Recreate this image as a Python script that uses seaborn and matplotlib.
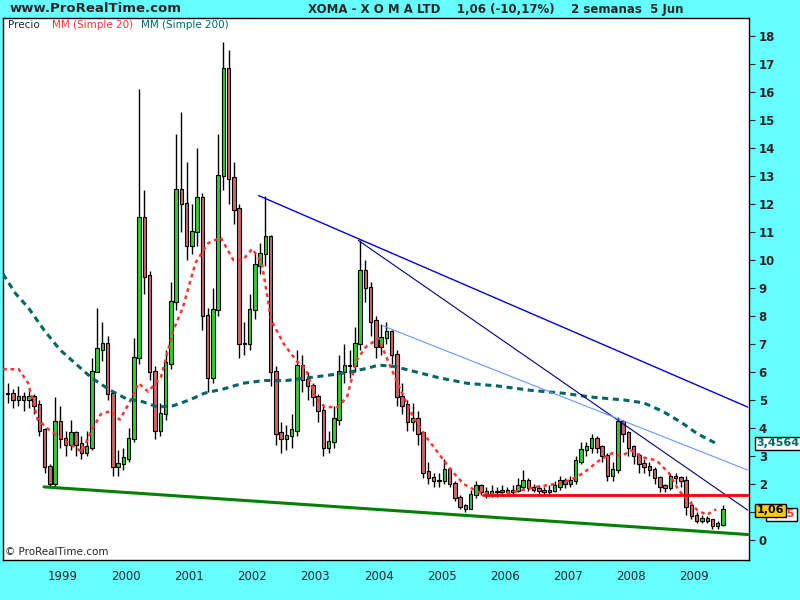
import matplotlib
matplotlib.use("Agg")
import matplotlib.pyplot as plt
import seaborn as sns
import numpy as np
import pandas as pd

# monthly candles, Jan 1998 .. May 2009
closes = [5.2,5.0,5.1,5.0,5.1,4.8,3.9,2.6,2.0,4.2,3.6,3.4,
          3.8,3.4,3.1,3.3,6.0,6.8,7.0,5.2,2.6,2.7,2.9,3.6,
          6.5,11.5,9.4,6.0,3.9,4.5,6.3,8.5,12.5,12.0,10.5,11.0,
          12.2,8.0,5.8,8.2,13.0,16.8,12.9,11.8,7.0,7.0,8.2,9.8,
          10.2,10.8,6.0,3.8,3.6,3.7,3.9,6.2,5.7,5.5,5.1,4.6,
          3.3,3.5,4.3,6.0,6.2,6.2,7.0,9.6,9.0,7.8,6.9,7.2,
          7.4,6.6,5.1,4.8,4.2,4.3,3.8,2.4,2.2,2.1,2.1,2.5,
          2.0,1.5,1.2,1.1,1.6,1.9,1.7,1.6,1.7,1.7,1.75,1.7,
          1.75,1.9,2.1,1.85,1.8,1.75,1.7,1.75,1.9,2.1,2.0,2.1,
          2.8,3.2,3.3,3.6,3.3,3.0,2.3,2.5,4.2,3.8,3.3,3.0,
          2.7,2.6,2.5,2.2,1.9,1.85,2.25,2.2,2.1,1.2,0.85,0.7,
          0.75,0.7,0.5,0.55,1.06]
highs = [5.6,5.4,5.5,5.3,5.4,5.2,5.0,4.0,2.7,5.1,4.8,3.9,
         4.3,3.9,3.7,3.9,6.5,8.3,7.8,7.3,5.3,3.2,3.3,4.0,
         7.2,16.1,12.5,9.6,6.2,4.9,6.8,9.2,14.5,15.3,13.5,12.0,
         14.0,12.4,8.3,9.0,14.5,17.8,17.5,13.5,12.0,7.8,8.8,10.3,
         10.6,12.3,10.9,6.2,4.2,4.1,4.5,6.8,6.6,6.0,5.6,5.2,
         4.8,3.9,4.8,6.6,7.0,6.8,7.6,10.7,10.0,9.2,8.0,7.7,
         7.8,7.5,6.8,5.6,5.0,4.9,4.6,3.9,2.8,2.4,2.4,2.9,
         2.6,2.1,1.6,1.3,1.8,2.1,2.0,1.9,1.95,1.9,1.95,1.9,
         1.95,2.2,2.5,2.2,2.0,1.95,1.9,1.95,2.1,2.3,2.2,2.3,
         3.0,3.5,3.5,3.8,3.7,3.4,3.1,2.8,4.4,4.3,3.9,3.4,
         3.1,2.9,2.8,2.6,2.3,2.0,2.4,2.4,2.3,2.3,1.4,1.0,
         0.9,0.85,0.75,0.7,1.25]
lows = [4.9,4.7,4.8,4.6,4.7,4.5,3.7,2.4,1.9,1.9,3.3,3.0,
        3.2,3.0,2.9,3.0,3.2,6.0,6.4,5.0,2.3,2.3,2.5,2.8,
        3.5,6.3,8.8,5.7,3.6,3.7,4.3,6.1,8.2,11.0,10.0,10.2,
        10.5,7.5,5.3,5.6,8.0,12.5,12.0,11.3,6.5,6.6,6.8,7.9,
        9.5,9.8,5.5,3.4,3.1,3.2,3.3,3.7,5.3,5.0,4.8,4.2,
        3.0,3.1,3.3,4.1,5.6,5.8,6.0,6.8,8.5,7.3,6.5,6.6,
        7.0,6.3,4.8,4.5,3.9,3.9,3.4,2.2,2.0,1.9,1.9,2.0,
        1.9,1.4,1.1,1.0,1.1,1.5,1.6,1.5,1.55,1.55,1.6,1.6,
        1.6,1.7,1.8,1.75,1.7,1.65,1.6,1.65,1.7,1.8,1.85,1.9,
        2.0,2.7,3.0,3.1,3.1,2.8,2.1,2.1,2.4,3.5,3.0,2.7,
        2.4,2.4,2.3,2.0,1.7,1.7,1.8,2.0,1.9,0.9,0.75,0.6,
        0.6,0.6,0.4,0.4,0.5]

# moving averages (decimal year, value)
ma20_t = [1998.05,1998.3,1998.45,1998.6,1998.8,1998.95,1999.1,1999.3,1999.45,1999.6,
          1999.75,1999.9,2000.05,2000.2,2000.35,2000.55,2000.75,2000.9,2001.1,2001.3,
          2001.5,2001.7,2001.85,2002.0,2002.15,2002.3,2002.5,2002.7,2002.85,2003.0,
          2003.15,2003.35,2003.5,2003.65,2003.8,2004.0,2004.15,2004.35,2004.55,2004.75,
          2004.95,2005.15,2005.35,2005.6,2005.9,2006.2,2006.5,2006.8,2007.05,2007.25,
          2007.5,2007.7,2007.85,2008.0,2008.2,2008.4,2008.6,2008.75,2008.9,2009.05,2009.2,2009.35]
ma20_v = [6.1,6.1,5.6,4.3,3.9,3.7,3.45,3.15,3.9,4.5,
          4.6,4.3,4.9,5.6,5.3,5.8,7.5,8.3,9.9,10.6,
          10.8,10.0,10.0,10.4,9.9,7.85,7.0,6.4,6.1,5.1,
          4.75,4.75,5.1,6.4,6.9,7.2,6.4,5.35,4.4,3.7,
          3.1,2.5,2.0,1.7,1.6,1.75,1.9,2.0,2.15,2.4,
          2.85,3.1,3.0,3.2,2.95,2.85,2.4,1.8,1.43,1.07,0.9,1.1]
ma200_t = [1998.05,1998.25,1998.45,1998.7,1998.95,1999.2,1999.45,1999.75,2000.0,2000.25,
           2000.5,2000.75,2001.0,2001.25,2001.55,2001.85,2002.2,2002.55,2002.9,2003.25,
           2003.55,2003.85,2004.0,2004.25,2004.6,2004.95,2005.4,2005.9,2006.4,2006.9,
           2007.4,2007.9,2008.2,2008.5,2008.8,2009.05,2009.35]
ma200_v = [9.5,8.8,8.3,7.5,6.8,6.3,5.8,5.35,5.05,4.95,
           4.75,4.8,5.0,5.25,5.4,5.6,5.7,5.7,5.8,5.9,
           6.0,6.15,6.25,6.2,6.0,5.8,5.6,5.5,5.35,5.25,
           5.1,5.0,4.9,4.6,4.2,3.8,3.45]

# trend lines (start, end)
lines = [((2002.1, 12.3), (2009.85, 4.75), "#0000dd", 1.0),
         ((2003.68, 10.7), (2009.85, 1.07), "#000080", 0.8),
         ((2004.07, 7.65), (2009.85, 2.5), "#6699ff", 0.8),
         ((2005.65, 1.6), (2009.85, 1.6), "#ff0000", 2.0),
         ((1998.7, 1.9), (2009.85, 0.2), "#008000", 2.2)]

dates = pd.date_range("1998-01-15", periods=len(closes), freq="MS")
t = np.array([d.year + (d.month - 0.5) / 12 for d in dates])
c = np.array(closes)
o = np.array([closes[0]] + closes[:-1])
hi = np.array(highs)
lo = np.array(lows)

sns.set_style("white")
fig = plt.figure(figsize=(8, 6), dpi=100, facecolor="#66ffff")
ax = fig.add_axes([3/800, 1-560/600, 746/800, 542/600])
ax.set_facecolor("white")

ax.vlines(t, lo, hi, color="black", lw=1, zorder=2)
up = c >= o
body_col = np.where(up, "#33cc33", "#cc6666")
ax.bar(t, np.abs(c - o) + 0.05, bottom=np.minimum(o, c), width=0.055,
       color=body_col, edgecolor="black", linewidth=0.8, zorder=3)

sns.lineplot(x=ma20_t, y=ma20_v, ax=ax, color="#ff3333", lw=1.8,
             linestyle=(0, (1.5, 1.5)), zorder=4)
sns.lineplot(x=ma200_t, y=ma200_v, ax=ax, color="#006666", lw=2.2,
             linestyle=(0, (2, 1.5)), zorder=4)
for (x0, y0), (x1, y1), col, w in lines:
    ax.plot([x0, x1], [y0, y1], color=col, lw=w, zorder=5)

ax.set_xlim(1998.05, 2009.87)
ax.set_ylim(-0.71, 18.64)
ax.yaxis.tick_right()
ax.set_yticks(range(0, 19))
ax.set_xticks(range(1999, 2010))
ax.tick_params(axis="y", direction="out", length=4, labelsize=8.5, pad=3)
ax.tick_params(axis="x", direction="out", length=4, labelsize=8.5)
for lab in ax.get_yticklabels():
    lab.set_fontweight("bold")
for s in ax.spines.values():
    s.set_color("black")
    s.set_linewidth(1)

# value labels on the right
box = dict(boxstyle="square,pad=0.15", fc="white", ec="black", lw=1)
ytr = ax.get_yaxis_transform()
ax.text(1.01, 3.45, "3,4564", transform=ytr, color="#006666",
        fontsize=8, fontweight="bold", va="center", bbox=box, clip_on=False)
ax.text(1.025, 0.92, "1,15", transform=ytr, color="#ff3333",
        fontsize=8, fontweight="bold", va="center", bbox=box, clip_on=False)
ax.text(1.01, 1.06, "1,06", transform=ytr, color="black",
        fontsize=8, fontweight="bold", va="center", clip_on=False,
        bbox=dict(boxstyle="square,pad=0.15", fc="#ffcc00", ec="black", lw=1))

fig.text(8/800, 1-25/600, "Precio", fontsize=7.5, va="center")
fig.text(52/800, 1-25/600, "MM (Simple 20)", fontsize=7.5, va="center", color="#ff3333")
fig.text(141/800, 1-25/600, "MM (Simple 200)", fontsize=7.5, va="center", color="#006666")
ax.text(0.003, 0.005, "© ProRealTime.com", transform=ax.transAxes, fontsize=7.5,
        va="bottom")

fig.text(10/800, 1-9/600, "www.ProRealTime.com", fontsize=9.5, fontweight="bold", va="center")
fig.text(308/800, 1-9/600, "XOMA - X O M A LTD    1,06 (-10,17%)    2 semanas  5 Jun",
         fontsize=8.5, fontweight="bold", va="center")

fig.savefig("out.png", dpi=100, facecolor=fig.get_facecolor())
